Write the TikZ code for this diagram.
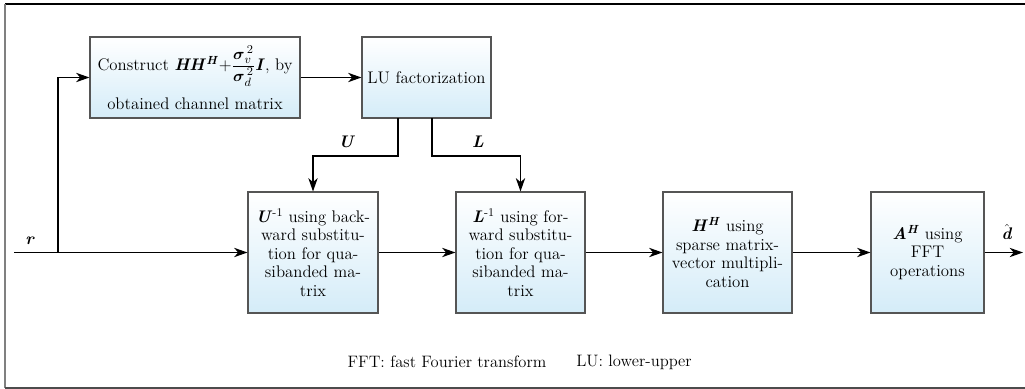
\documentclass[tikz,border=0pt]{standalone}
\usepackage{amsmath}
\usepackage{fontspec}
\usetikzlibrary{arrows.meta}
\newcommand{\bitx}[1]{\textbf{\textit{#1}}}
\definecolor{boxblue}{RGB}{212,236,248}
\definecolor{boxedge}{RGB}{85,85,85}
\begin{document}
\begin{tikzpicture}[x=0.75pt,y=-0.75pt,
  blk/.style={draw=boxedge, line width=0.8pt, shading=axis, top color=white,
    bottom color=boxblue, align=center, inner sep=0pt,
    font=\fontsize{12.6}{13.9}\selectfont},
  arr/.style={line width=0.9pt, -{Stealth[length=10pt,width=7pt,inset=3pt]}},
  lbl/.style={font=\fontsize{12.6}{14}\selectfont},
  note/.style={font=\fontsize{12.4}{14}\selectfont}]
\useasboundingbox (0,0) rectangle (1025,389);
% frame
\draw[line width=1pt] (5,4) -- (1025,4);
\draw[line width=1.2pt, gray] (5,4) -- (5,388);
\draw[line width=1.5pt, black!70] (5,388) -- (1025,388);

% blocks
\node[blk, minimum width=157.5pt, minimum height=60.75pt] (cons) at (195,77.5)
  {Construct \bitx{HH}\textsuperscript{\bitx{H}}+$\dfrac{\boldsymbol{\sigma}_v^{\,2}}{\boldsymbol{\sigma}_d^{\,2}}$\bitx{I}, by\\[7pt]obtained channel matrix};
\node[blk, minimum width=96.75pt, minimum height=60.75pt] (lu) at (426.5,77.5)
  {LU factorization};
\node[blk, minimum width=97.5pt, minimum height=90.75pt] (uinv) at (313,252.5)
  {\bitx{U}\textsuperscript{-1} using back-\\ward substitu-\\tion for qua-\\sibanded ma-\\trix};
\node[blk, minimum width=96.75pt, minimum height=90.75pt] (linv) at (520.5,252.5)
  {\bitx{L}\textsuperscript{-1} using for-\\ward substitu-\\tion for qua-\\sibanded ma-\\trix};
\node[blk, minimum width=96.75pt, minimum height=90.75pt] (hh) at (727.5,252.5)
  {\bitx{H}\textsuperscript{\bitx{H}} using\\sparse matrix-\\vector multipli-\\cation};
\node[blk, minimum width=84.75pt, minimum height=90.75pt] (ah) at (927.5,252.5)
  {\bitx{A}\textsuperscript{\bitx{H}} using\\FFT\\operations};

% connection points
\coordinate (rin) at (14,252.5);
\coordinate (br) at (58,252.5);
\coordinate (uo) at (398,118);
\coordinate (lo) at (432,118);
\coordinate (dout) at (1023,252.5);

% connectors
\draw[arr] (rin) -- (uinv.west);
\draw[arr] (br) |- (cons.west);
\draw[arr] (cons.east) -- (lu.west);
\draw[arr] (uo) -- ++(0,38) -| (uinv.north);
\draw[arr] (lo) -- ++(0,38) -| (linv.north);
\draw[arr] (uinv.east) -- (linv.west);
\draw[arr] (linv.east) -- (hh.west);
\draw[arr] (hh.east) -- (ah.west);
\draw[arr] (ah.east) -- (dout);

% labels
\node[lbl] (rl) at (30,241) {\bitx{r}};
\node[lbl] (ul) at (347,142) {\bitx{U}};
\node[lbl] (ll) at (478,142) {\bitx{L}};
\node[lbl] (dl) at (1007,232) {$\hat{\text{\bitx{d}}}$};

% notes
\node[note] (n1) at (447,362) {FFT: fast Fourier transform};
\node[note] (n2) at (634,362) {LU: lower-upper};
\end{tikzpicture}
\end{document}
